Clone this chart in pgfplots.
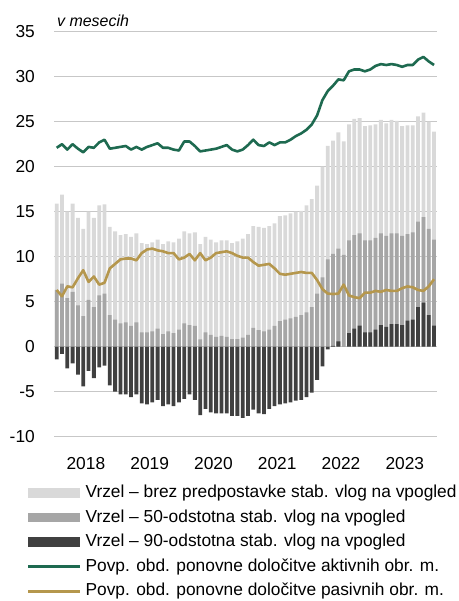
\documentclass[border=0pt]{standalone}
\usepackage{fontspec}
\setmainfont{Liberation Sans}
\usepackage{pgfplots}
\usepackage{pgfplotstable}
\pgfplotsset{compat=1.18}
\definecolor{lightbar}{RGB}{217,217,217}
\definecolor{midbar}{RGB}{166,166,166}
\definecolor{darkbar}{RGB}{64,64,64}
\definecolor{greenline}{RGB}{30,106,80}
\definecolor{goldline}{RGB}{181,151,77}

\pgfplotstableread{
x L M D G P
0 15.9 6.3 -1.4 22.1 6.3
1 16.9 7.0 -0.8 22.5 5.6
2 15.0 5.4 -2.4 21.9 6.7
3 15.9 6.1 -1.85 22.5 6.6
4 14.3 4.6 -3.1 22.0 7.6
5 13.1 3.4 -4.4 21.6 8.5
6 15.0 5.2 -2.7 22.2 7.2
7 14.3 4.4 -3.5 22.1 7.8
8 15.7 5.7 -2.3 22.7 6.9
9 15.8 5.9 -2.1 23.0 7.1
10 13.3 3.5 -4.3 22.0 8.7
11 12.8 3.0 -5.0 22.1 9.2
12 12.4 2.6 -5.3 22.2 9.7
13 12.5 2.7 -5.3 22.3 9.8
14 12.2 2.3 -5.6 21.9 9.8
15 12.6 2.7 -5.3 22.2 9.6
16 11.5 1.6 -6.3 21.9 10.4
17 11.4 1.6 -6.4 22.2 10.8
18 11.6 1.7 -6.2 22.4 10.9
19 11.9 2.0 -5.9 22.6 10.7
20 11.4 1.4 -6.6 22.1 10.6
21 11.7 1.7 -6.4 22.1 10.4
22 11.6 1.5 -6.6 21.9 10.4
23 12.0 1.9 -6.2 21.8 9.7
24 12.8 2.6 -5.8 22.8 9.9
25 12.6 2.4 -5.3 22.8 10.3
26 12.7 2.3 -5.9 22.3 9.6
27 11.4 0.8 -7.6 21.7 10.4
28 12.2 1.6 -6.9 21.8 9.6
29 11.9 1.3 -7.3 21.9 9.9
30 11.6 1.1 -7.4 22.0 10.4
31 11.8 1.2 -7.4 22.2 10.5
32 11.8 1.1 -7.4 22.4 10.6
33 11.5 0.85 -7.7 21.9 10.4
34 11.7 0.85 -7.7 21.7 10.1
35 12.0 1.0 -7.9 21.9 9.9
36 12.5 1.3 -7.7 22.4 9.9
37 13.4 2.1 -7.0 23.0 9.4
38 13.3 1.85 -7.4 22.4 9.0
39 13.2 1.7 -7.5 22.3 9.1
40 13.4 1.9 -6.9 22.7 9.2
41 13.7 2.3 -6.6 22.4 8.7
42 14.5 2.85 -6.4 22.7 8.1
43 14.6 3.0 -6.3 22.7 8.0
44 14.8 3.15 -6.2 23.0 8.1
45 15.0 3.3 -6.0 23.4 8.2
46 15.1 3.5 -5.9 23.7 8.3
47 15.7 3.8 -5.6 24.1 8.2
48 16.4 4.4 -5.1 24.7 8.2
49 17.9 5.9 -3.7 25.7 7.4
50 20.0 7.7 -2.2 27.4 6.4
51 22.3 9.7 -0.3 28.4 5.9
52 22.9 10.3 0.1 29.0 5.85
53 23.8 10.9 0.6 29.7 5.9
54 22.8 10.2 0.0 29.6 6.9
55 24.7 11.8 1.5 30.6 5.7
56 25.3 12.4 2.0 30.8 5.5
57 25.4 12.6 2.35 30.8 5.4
58 24.5 11.8 1.6 30.6 6.0
59 24.6 11.8 1.6 30.8 6.0
60 24.7 12.1 1.9 31.2 6.2
61 25.2 12.6 2.4 31.4 6.1
62 24.8 12.3 2.2 31.3 6.3
63 25.2 12.6 2.5 31.4 6.2
64 25.1 12.6 2.5 31.3 6.2
65 24.5 12.3 2.4 31.1 6.5
66 24.6 12.5 2.9 31.3 6.7
67 24.6 12.7 3.0 31.3 6.6
68 25.6 13.9 4.4 31.9 6.3
69 26.0 14.4 4.9 32.2 6.2
70 25.0 13.1 3.5 31.7 6.7
71 23.9 11.9 2.35 31.3 7.5
}\data

\begin{document}
\begin{tikzpicture}
\useasboundingbox (0,0) rectangle (459bp,601bp);
\node[anchor=base west, inner sep=0pt, font=\fontsize{16}{19}\selectfont\itshape] at (57bp,574bp) {v mesecih};
\begin{axis}[
  at={(54bp,164.3bp)}, anchor=south west,
  width=382.7bp, height=405bp, scale only axis,
  xmin=-0.5, xmax=71.5, ymin=-10, ymax=35,
  axis line style={draw=none},
  major tick length=0pt,
  ytick={-10,-5,0,5,10,15,20,25,30,35},
  yticklabels={-10,-5,0,5,10,15,20,25,30,35},
  xtick={5.5,17.5,29.5,41.5,53.5,65.5},
  xticklabels={2018,2019,2020,2021,2022,2023},
  ymajorgrids,
  grid style={draw=black!22, line width=0.9bp},
  tick label style={font=\fontsize{17.4}{20}\selectfont},
  yticklabel style={anchor=east, inner sep=0pt, xshift=-19bp},
  xticklabel style={anchor=north, inner sep=0pt, yshift=-20bp},
  legend cell align=left,
  legend style={draw=none, fill=none, at={(-0.0706,-0.118)}, anchor=north west,
    font=\fontsize{17.4}{20}\selectfont, inner sep=0pt, outer sep=0pt,
    row sep=7.6bp, column sep=4bp,
    nodes={inner sep=0pt, text height=13bp, text depth=4bp}},
]
\addplot[ybar, bar width=3.8bp, bar shift=0pt, fill=lightbar, draw=none,
  legend image code/.code={\fill[lightbar] (0bp,-4.7bp) rectangle (52bp,4.7bp);}]
  table[x=x, y=L]{\data};
\addlegendentry{Vrzel – brez predpostavke stab. vlog na vpogled}
\addplot[ybar, bar width=3.8bp, bar shift=0pt, fill=midbar, draw=none,
  legend image code/.code={\fill[midbar] (0bp,-4.7bp) rectangle (52bp,4.7bp);}]
  table[x=x, y=M]{\data};
\addlegendentry{Vrzel – 50-odstotna stab. vlog na vpogled}
\addplot[ybar, bar width=3.8bp, bar shift=0pt, fill=darkbar, draw=none,
  legend image code/.code={\fill[darkbar] (0bp,-4.7bp) rectangle (52bp,4.7bp);}]
  table[x=x, y=D]{\data};
\addlegendentry{Vrzel – 90-odstotna stab. vlog na vpogled}
\addplot[greenline, line width=2.6bp, mark=none, line join=round,
  legend image code/.code={\draw[greenline, line width=2.6bp] (0bp,0bp) -- (52bp,0bp);}]
  table[x=x, y=G]{\data};
\addlegendentry{Povp. obd. ponovne določitve aktivnih obr. m.}
\addplot[goldline, line width=2.6bp, mark=none, line join=round,
  legend image code/.code={\draw[goldline, line width=2.6bp] (0bp,0bp) -- (52bp,0bp);}]
  table[x=x, y=P]{\data};
\addlegendentry{Povp. obd. ponovne določitve pasivnih obr. m.}
\end{axis}
\end{tikzpicture}
\end{document}
